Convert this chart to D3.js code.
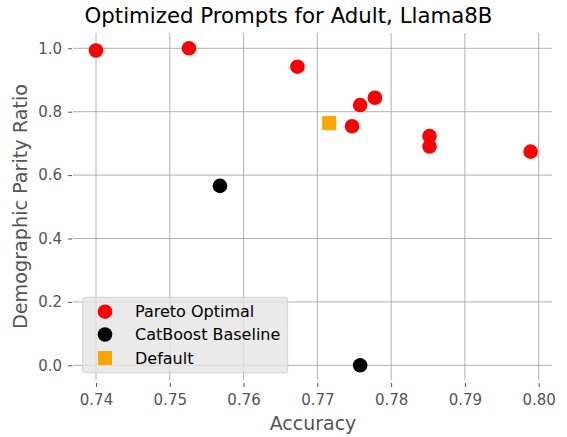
<!DOCTYPE html>
<html><head><meta charset="utf-8">
<script src="https://cdn.jsdelivr.net/npm/d3@7"></script>
<style>body{margin:0;background:#fff}svg{display:block;font-family:"DejaVu Sans",sans-serif}</style>
</head><body>
<script>
const paretoAcc = [0.7400, 0.7526, 0.7673, 0.7758, 0.7778, 0.7747, 0.7852, 0.7852, 0.7989];
const paretoDP  = [0.993, 1.000, 0.942, 0.821, 0.844, 0.754, 0.723, 0.690, 0.674];
const baselineAcc = [0.7568, 0.7758];
const baselineDP  = [0.566, 0.000];
const defaultAcc = [0.7716];
const defaultDP  = [0.764];
const xTicks = [0.74, 0.75, 0.76, 0.77, 0.78, 0.79, 0.80];
const yTicks = [0.0, 0.2, 0.4, 0.6, 0.8, 1.0];
const legendLabels = ["Pareto Optimal", "CatBoost Baseline", "Default"];

const W = 567, H = 437;
const L = 73, R = 552, T = 33, B = 380;
const svg = d3.select("body").append("svg").attr("width", W).attr("height", H);

const x = d3.scaleLinear().domain([0.74, 0.80]).range([96, 538.7]);
const y = d3.scaleLinear().domain([0, 1]).range([365.3, 48.3]);

// grid
svg.append("g").selectAll("line").data(xTicks).join("line")
  .attr("x1", d => x(d)).attr("x2", d => x(d)).attr("y1", T).attr("y2", B)
  .attr("stroke", "#b0b0b0").attr("stroke-width", 1);
svg.append("g").selectAll("line").data(yTicks).join("line")
  .attr("y1", d => y(d)).attr("y2", d => y(d)).attr("x1", L).attr("x2", R)
  .attr("stroke", "#b0b0b0").attr("stroke-width", 1);

// axes
const xAxis = d3.axisBottom(x).tickValues(xTicks).tickFormat(d3.format(".2f")).tickSize(4).tickPadding(7);
const gx = svg.append("g").attr("transform", `translate(0,${B+3})`).call(xAxis);
gx.select(".domain").remove();
gx.selectAll("line").attr("stroke", "#555");
gx.selectAll("text").attr("fill", "#555").style("font-size", "15px").style("font-family", "DejaVu Sans");

const yAxis = d3.axisLeft(y).tickValues(yTicks).tickFormat(d3.format(".1f")).tickSize(4).tickPadding(6);
const gy = svg.append("g").attr("transform", `translate(${L-1},0)`).call(yAxis);
gy.select(".domain").remove();
gy.selectAll("line").attr("stroke", "#555");
gy.selectAll("text").attr("fill", "#555").style("font-size", "15px").style("font-family", "DejaVu Sans");

// points
svg.append("g").selectAll("circle").data(paretoAcc.map((a,i)=>[a,paretoDP[i]])).join("circle")
  .attr("cx", d => x(d[0])).attr("cy", d => y(d[1])).attr("r", 7.3).attr("fill", "#ff0000");
svg.append("g").selectAll("circle").data(baselineAcc.map((a,i)=>[a,baselineDP[i]])).join("circle")
  .attr("cx", d => x(d[0])).attr("cy", d => y(d[1])).attr("r", 7.3).attr("fill", "#000");
svg.append("g").selectAll("rect").data(defaultAcc.map((a,i)=>[a,defaultDP[i]])).join("rect")
  .attr("x", d => x(d[0]) - 7).attr("y", d => y(d[1]) - 7).attr("width", 14).attr("height", 14).attr("fill", "#ffa500");

// legend
const lg = svg.append("g");
lg.append("rect").attr("x", 82.7).attr("y", 297.3).attr("width", 205).attr("height", 75.5)
  .attr("rx", 3).attr("fill", "#e5e5e5").attr("fill-opacity", 0.8).attr("stroke", "#d0d0d0");
const ly = [311.7, 334.5, 358];
const lcol = ["#ff0000", "#000", "#ffa500"];
legendLabels.forEach((lab, i) => {
  if (i < 2) lg.append("circle").attr("cx", 105).attr("cy", ly[i]).attr("r", 7.3).attr("fill", lcol[i]);
  else lg.append("rect").attr("x", 98).attr("y", ly[i]-7).attr("width", 14).attr("height", 14).attr("fill", lcol[i]);
  lg.append("text").attr("x", 135).attr("y", ly[i]).attr("dy", "0.35em").text(lab)
    .style("font-size", "16px").attr("fill", "#000");
});

// title & labels
svg.append("text").attr("x", 288.5).attr("y", 23).attr("text-anchor", "middle")
  .style("font-size", "21.3px").attr("fill", "#000").text("Optimized Prompts for Adult, Llama8B");
svg.append("text").attr("x", 313).attr("y", 430).attr("text-anchor", "middle")
  .style("font-size", "19px").attr("fill", "#555").text("Accuracy");
svg.append("text").attr("transform", "translate(26.5,206.5) rotate(-90)").attr("text-anchor", "middle")
  .style("font-size", "19.2px").attr("fill", "#555").text("Demographic Parity Ratio");
</script>
</body></html>
